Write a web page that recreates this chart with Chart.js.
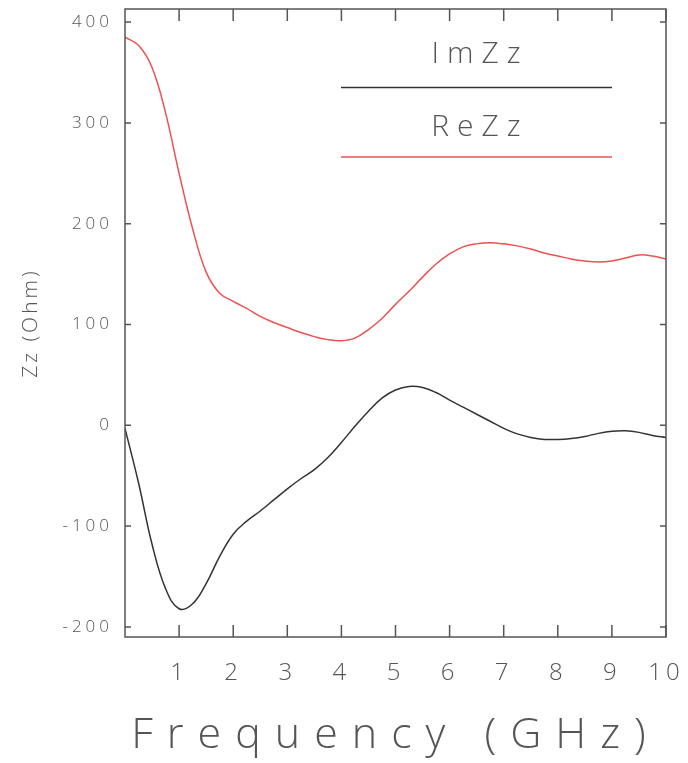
<!DOCTYPE html>
<html>
<head>
<meta charset="utf-8">
<script src="https://cdn.jsdelivr.net/npm/chart.js@4.4.1/dist/chart.umd.min.js"></script>
<style>
  html, body { margin: 0; padding: 0; background: #fff; }
</style>
</head>
<body>
<canvas id="mycanvas" width="688" height="763"></canvas>
<script>
// frequency in GHz
var freq = [0, 0.25, 0.5, 0.75, 1, 1.25, 1.5, 1.75, 2, 2.25, 2.5, 2.75, 3, 3.25, 3.5, 3.75, 4, 4.25, 4.5, 4.75,
            5, 5.25, 5.5, 5.75, 6, 6.25, 6.5, 6.75, 7, 7.25, 7.5, 7.75, 8, 8.25, 8.5, 8.75, 9, 9.25, 9.5, 9.75, 10];
var imZz = [-3, -57, -118, -162, -182, -177, -157, -130, -108, -95, -85, -74, -63, -53, -44, -32, -17, -1, 14, 27,
            35, 38.5, 37.5, 32.5, 25, 18, 11, 4, -3, -8.5, -12, -14, -14, -13, -11, -8, -6, -5.5, -7, -10, -12];
var reZz = [385, 377, 355, 310, 250, 195, 152, 131, 123, 116, 108, 102, 97, 92, 88, 85, 84, 86.5, 95, 106,
            120, 133, 147, 160, 170, 177, 180, 181, 180, 178, 175, 171, 168, 165, 163, 162, 163, 166, 169, 168, 165];
var xTicks = [1, 2, 3, 4, 5, 6, 7, 8, 9, 10];
var yTicks = [-200, -100, 0, 100, 200, 300, 400];

var FONT = "'Open Sans', 'DejaVu Sans', sans-serif";
var GREY = '#555';

function toPoints(vals) {
	var pts = [];
	for (var i in freq) {
		pts.push({ x: freq[i], y: vals[i] });
	}
	return pts;
}

// give each piece of text its own letter spacing
function spaced(scale, fn, sp) {
	var orig = scale[fn];
	scale[fn] = function() {
		this.ctx.letterSpacing = sp;
		orig.apply(this, arguments);
		this.ctx.letterSpacing = '0px';
	};
}

var frame = {
	id: 'frame',
	beforeDraw: function(chart) {
		if (chart._spaced) return;
		chart._spaced = true;
		spaced(chart.scales.x, 'drawLabels', '4px');
		spaced(chart.scales.x, 'drawTitle', '14px');
		spaced(chart.scales.y, 'drawLabels', '4px');
		spaced(chart.scales.y, 'drawTitle', '3px');
	},
	afterDatasetsDraw: function(chart) {
		var ctx = chart.ctx, a = chart.chartArea;
		var xs = chart.scales.x, ys = chart.scales.y;
		ctx.save();
		ctx.strokeStyle = GREY;
		ctx.lineWidth = 1.5;
		ctx.strokeRect(a.left, a.top, a.right - a.left, a.bottom - a.top);

		// ticks point inward on all four sides
		ctx.beginPath();
		xs.ticks.forEach(function(t) {
			var px = xs.getPixelForValue(t.value);
			ctx.moveTo(px, a.bottom); ctx.lineTo(px, a.bottom - 12);
			ctx.moveTo(px, a.top); ctx.lineTo(px, a.top + 12);
		});
		ys.ticks.forEach(function(t) {
			var py = ys.getPixelForValue(t.value);
			ctx.moveTo(a.left, py); ctx.lineTo(a.left + 6, py);
			ctx.moveTo(a.right, py); ctx.lineTo(a.right - 6, py);
		});
		ctx.stroke();

		// legend: name above a long sample line
		var rows = [{ ds: 0, ty: 54, ly: 87.5 }, { ds: 1, ty: 127, ly: 157 }];
		ctx.font = '300 30px ' + FONT;
		ctx.textAlign = 'center';
		ctx.textBaseline = 'middle';
		ctx.letterSpacing = '8px';
		rows.forEach(function(r) {
			var ds = chart.data.datasets[r.ds];
			ctx.fillStyle = GREY;
			ctx.fillText(ds.label, 476 + 4, r.ty);
			ctx.strokeStyle = ds.borderColor;
			ctx.lineWidth = 1.5;
			ctx.beginPath();
			ctx.moveTo(341, r.ly);
			ctx.lineTo(612, r.ly);
			ctx.stroke();
		});
		ctx.restore();
	}
};

var ctx = document.getElementById('mycanvas');

var chart = new Chart(ctx, {
	type: 'line',
	data: {
		datasets: [
			{
				label: 'ImZz',
				data: toPoints(imZz),
				borderColor: '#333333',
				borderWidth: 1.5,
				pointRadius: 0,
				tension: 0.4
			},
			{
				label: 'ReZz',
				data: toPoints(reZz),
				borderColor: '#ef5050',
				borderWidth: 1.5,
				pointRadius: 0,
				tension: 0.4
			}
		]
	},
	options: {
		responsive: false,
		animation: false,
		events: [],
		layout: { padding: { left: 0, right: 22, top: 9, bottom: 0 } },
		plugins: {
			legend: { display: false },
			tooltip: { enabled: false }
		},
		scales: {
			x: {
				type: 'linear',
				min: 0,
				max: 10,
				afterFit: function(s) { s.height = 126; s.paddingLeft = 0; s.paddingRight = 0; },
				afterBuildTicks: function(s) { s.ticks = xTicks.map(function(v) { return { value: v }; }); },
				grid: { display: false },
				border: { display: false },
				ticks: { color: GREY, padding: 14, maxRotation: 0, font: { family: FONT, size: 24, weight: 300 } },
				title: {
					display: true,
					text: 'Frequency (GHz)',
					color: GREY,
					padding: { top: 0, bottom: 1 },
					font: { family: FONT, size: 43, weight: 300 }
				}
			},
			y: {
				min: -210,
				max: 413,
				afterFit: function(s) { s.width = 125; s.paddingTop = 0; s.paddingBottom = 0; },
				afterBuildTicks: function(s) { s.ticks = yTicks.map(function(v) { return { value: v }; }); },
				grid: { display: false },
				border: { display: false },
				ticks: { color: GREY, padding: 4, font: { family: FONT, size: 17, weight: 300 } },
				title: {
					display: true,
					text: 'Zz (Ohm)',
					color: GREY,
					padding: { top: 18, bottom: 0 },
					font: { family: FONT, size: 21, weight: 300 }
				}
			}
		}
	},
	plugins: [frame]
});
</script>
</body>
</html>
